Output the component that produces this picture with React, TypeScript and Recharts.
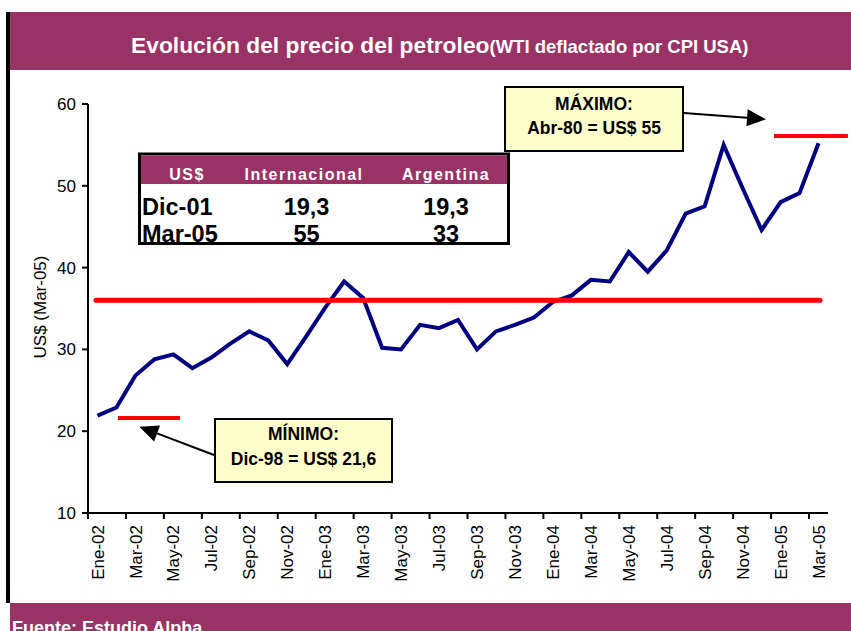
import React from 'react';
import { LineChart, Line, XAxis, YAxis, ReferenceLine } from 'recharts';

// monthly WTI price, deflated by US CPI (US$ of Mar-05)
const months = [
  'Ene-02', 'Feb-02', 'Mar-02', 'Abr-02', 'May-02', 'Jun-02', 'Jul-02', 'Ago-02', 'Sep-02', 'Oct-02', 'Nov-02', 'Dic-02',
  'Ene-03', 'Feb-03', 'Mar-03', 'Abr-03', 'May-03', 'Jun-03', 'Jul-03', 'Ago-03', 'Sep-03', 'Oct-03', 'Nov-03', 'Dic-03',
  'Ene-04', 'Feb-04', 'Mar-04', 'Abr-04', 'May-04', 'Jun-04', 'Jul-04', 'Ago-04', 'Sep-04', 'Oct-04', 'Nov-04', 'Dic-04',
  'Ene-05', 'Feb-05', 'Mar-05',
];

const prices = [
  21.9, 22.9, 26.8, 28.8, 29.4, 27.7, 29.0, 30.7, 32.2, 31.1, 28.2, 31.6,
  35.1, 38.3, 36.3, 30.2, 30.0, 33.0, 32.6, 33.6, 30.0, 32.2, 33.0, 33.9,
  35.8, 36.6, 38.5, 38.3, 41.9, 39.5, 42.1, 46.6, 47.5, 55.0, 49.7, 44.6,
  48.0, 49.1, 55.2,
];

const labelTicks = [0, 2, 4, 6, 8, 10, 12, 14, 16, 18, 20, 22, 24, 26, 28, 30, 32, 34, 36, 38];
const yTicks = [10, 20, 30, 40, 50, 60];

// red reference marks: average, minimum (Dic-98) and maximum (Abr-80)
const avgValue = 36.0;
const avgSpan = [-0.08, 38.08];
const minValue = 21.6;
const minSpan = [1.08, 4.35];
const maxValue = 56.1;
const maxSpan = [35.65, 39.55];

const tableHeader = ['US$', 'Internacional', 'Argentina'];
const tableRows = [
  ['Dic-01', '19,3', '19,3'],
  ['Mar-05', '55', '33'],
];

const data = months.map((m, i) => ({ idx: i, month: m, price: prices[i] }));

const W = 851;
const H = 631;
const MARGIN = { top: 104, right: 23, left: 28, bottom: 38 };
const Y_W = 60;
const X_H = 80;
const band = (W - MARGIN.left - MARGIN.right - Y_W) / months.length;

const PURPLE = '#993366';
const FONT = '"Liberation Sans", Arial, Helvetica, sans-serif';

const MonthTick = (props: any) => {
  const { x, y, payload } = props;
  const ty = y + 12;
  return (
    <g>
      <line x1={x - band / 2} x2={x - band / 2} y1={y} y2={y + 6} stroke="#000" strokeWidth={2} />
      <text
        x={x}
        y={ty}
        transform={`rotate(-90, ${x}, ${ty})`}
        textAnchor="end"
        dy="0.36em"
        fontSize={17}
        fontFamily={FONT}
        fill="#000"
      >
        {months[payload.value]}
      </text>
    </g>
  );
};

// arrow from (x1,y1) to tip (x2,y2)
const Arrow = ({ x1, y1, x2, y2 }: { x1: number; y1: number; x2: number; y2: number }) => {
  const dx = x2 - x1;
  const dy = y2 - y1;
  const len = Math.sqrt(dx * dx + dy * dy);
  const ux = dx / len;
  const uy = dy / len;
  const bx = x2 - 19 * ux;
  const by = y2 - 19 * uy;
  const px = -uy * 8.5;
  const py = ux * 8.5;
  return (
    <g>
      <line x1={x1} y1={y1} x2={bx} y2={by} stroke="#000" strokeWidth={2} />
      <polygon points={`${x2},${y2} ${bx + px},${by + py} ${bx - px},${by - py}`} fill="#000" />
    </g>
  );
};

const Overlay = () => (
  <svg
    width={W}
    height={H}
    style={{ position: 'absolute', left: 0, top: 0, pointerEvents: 'none' }}
    fontFamily={FONT}
  >
    {/* frame */}
    <rect x={6} y={12} width={4} height={591} fill="#000" />
    <rect x={10} y={12} width={W - 10} height={58} fill={PURPLE} />
    <rect x={10} y={603} width={W - 10} height={H - 603} fill={PURPLE} />
    <text x={131} y={52.5} fill="#fff" fontWeight="bold">
      <tspan fontSize={22.8}>Evolución del precio del petroleo</tspan>
      <tspan fontSize={18.5}>(WTI deflactado por CPI USA)</tspan>
    </text>
    <text x={12} y={634} fill="#fff" fontWeight="bold" fontSize={18}>
      Fuente: Estudio Alpha
    </text>

    {/* y axis title */}
    <text x={46} y={307} transform="rotate(-90, 46, 307)" textAnchor="middle" fontSize={17} fill="#000">
      US$ (Mar-05)
    </text>

    {/* table */}
    <rect x={139.5} y={154} width={369} height={89.5} fill="#fff" stroke="#000" strokeWidth={3} />
    <rect x={141} y={155.5} width={366} height={28.5} fill={PURPLE} />
    {tableHeader.map((h, i) => (
      <text
        key={h}
        x={[187, 304, 446][i]}
        y={180}
        textAnchor="middle"
        fill="#fff"
        fontWeight="bold"
        fontSize={16}
        letterSpacing={1.5}
      >
        {h}
      </text>
    ))}
    {tableRows.map((r, j) => (
      <g key={r[0]} fontWeight="bold" fontSize={23.5} fill="#000">
        <text x={142} y={[215, 241.5][j]}>{r[0]}</text>
        <text x={306.5} y={[215, 241.5][j]} textAnchor="middle">{r[1]}</text>
        <text x={446} y={[215, 241.5][j]} textAnchor="middle">{r[2]}</text>
      </g>
    ))}

    {/* annotations */}
    <Arrow x1={684} y1={113} x2={766} y2={119.3} />
    <rect x={505} y={87} width={178} height={64} fill="#FFFFCC" stroke="#000" strokeWidth={2} />
    <text x={594} y={110} textAnchor="middle" fontWeight="bold" fontSize={17.5}>MÁXIMO:</text>
    <text x={594} y={133.5} textAnchor="middle" fontWeight="bold" fontSize={17.5}>Abr-80 = US$ 55</text>

    <Arrow x1={214} y1={455} x2={139.3} y2={426.7} />
    <rect x={215} y={419} width={177} height={63} fill="#FFFFCC" stroke="#000" strokeWidth={2} />
    <text x={303.5} y={440} textAnchor="middle" fontWeight="bold" fontSize={17.5}>MÍNIMO:</text>
    <text x={303.5} y={464.5} textAnchor="middle" fontWeight="bold" fontSize={17.5}>Dic-98 = US$ 21,6</text>
  </svg>
);

const App: React.FC = () => {
  return (
    <div
      style={{
        position: 'absolute',
        left: 0,
        top: 0,
        width: W,
        height: H,
        overflow: 'hidden',
        background: '#fff',
        fontFamily: FONT,
      }}
    >
      <LineChart width={W} height={H} data={data} margin={MARGIN}>
        <XAxis
          dataKey="idx"
          type="number"
          domain={[-0.5, 38.5]}
          ticks={labelTicks}
          interval={0}
          tick={<MonthTick />}
          tickLine={false}
          tickSize={0}
          tickMargin={0}
          height={X_H}
          axisLine={{ stroke: '#000', strokeWidth: 2 }}
          allowDataOverflow
        />
        <YAxis
          type="number"
          domain={[10, 60]}
          ticks={yTicks}
          interval={0}
          width={Y_W}
          tickSize={6}
          tickMargin={6}
          tick={{ fontSize: 17, fill: '#000', fontFamily: FONT }}
          tickLine={{ stroke: '#000', strokeWidth: 2 }}
          axisLine={{ stroke: '#000', strokeWidth: 2 }}
          allowDataOverflow
        />
        <Line
          type="linear"
          dataKey="price"
          stroke="#000080"
          strokeWidth={4}
          dot={false}
          activeDot={false}
          isAnimationActive={false}
        />
        <ReferenceLine
          segment={[{ x: avgSpan[0], y: avgValue }, { x: avgSpan[1], y: avgValue }]}
          stroke="#FF0000"
          strokeWidth={5}
          strokeLinecap="round"
          ifOverflow="visible"
        />
        <ReferenceLine
          segment={[{ x: minSpan[0], y: minValue }, { x: minSpan[1], y: minValue }]}
          stroke="#FF0000"
          strokeWidth={4}
          ifOverflow="visible"
        />
        <ReferenceLine
          segment={[{ x: maxSpan[0], y: maxValue }, { x: maxSpan[1], y: maxValue }]}
          stroke="#FF0000"
          strokeWidth={4}
          ifOverflow="visible"
        />
      </LineChart>
      <Overlay />
    </div>
  );
};

export default App;
